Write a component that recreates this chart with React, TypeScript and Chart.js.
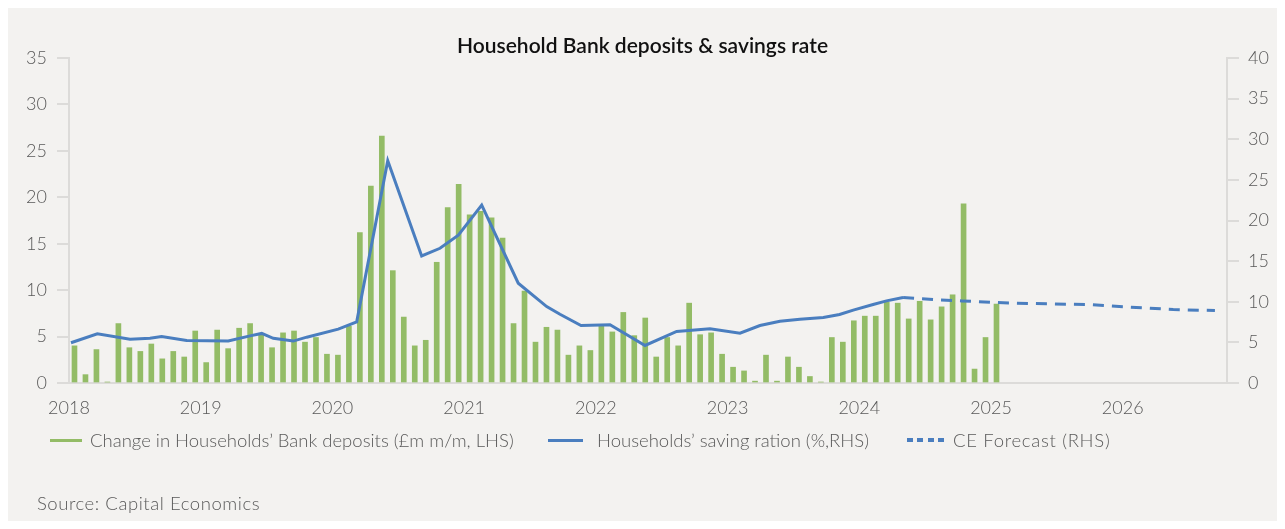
import React, { useEffect, useRef } from "react";
import { Chart, registerables } from "chart.js";

Chart.register(...registerables);

// Monthly bars, Jan 2018 (index 0) .. Jan 2025 (index 84), LHS
const barValues: number[] = [
  4.0, 0.9, 3.6, 0.1, 6.4, 3.8, 3.4, 4.2, 2.6, 3.4, 2.8, 5.6,
  2.2, 5.7, 3.7, 5.9, 6.4, 5.3, 3.8, 5.4, 5.6, 4.4, 4.9, 3.1,
  3.0, 6.1, 16.2, 21.2, 26.6, 12.1, 7.1, 4.0, 4.6, 13.0, 18.9, 21.4,
  18.1, 18.5, 17.8, 15.6, 6.4, 9.9, 4.4, 6.0, 5.7, 3.0, 4.0, 3.5,
  6.3, 5.5, 7.6, 5.1, 7.0, 2.8, 4.9, 4.0, 8.6, 5.2, 5.4, 3.1,
  1.7, 1.3, 0.2, 3.0, 0.2, 2.8, 1.7, 0.7, 0.1, 4.9, 4.4, 6.7,
  7.2, 7.2, 8.7, 8.6, 6.9, 8.8, 6.8, 8.2, 9.5, 19.3, 1.5, 4.9,
  8.5,
];

// Saving ratio (RHS): position in months from Jan 2018, value in %
const savingX: number[] = [
  -0.32, 2.08, 5.06, 6.88, 7.94, 10.22, 14.01, 15.99, 17.06, 18.11, 19.93, 21.16,
  24.03, 25.71, 28.54, 31.63, 33.3, 34.97, 37.1, 40.43, 43.02, 44.23, 46.15, 48.79,
  51.98, 54.86, 57.9, 60.63, 62.45, 64.27, 66.09, 68.22, 69.7, 70.95, 72.76, 73.98,
  75.49,
];
const savingY: number[] = [
  4.95, 6.05, 5.4, 5.5, 5.73, 5.24, 5.16, 5.8, 6.1, 5.5, 5.16, 5.64,
  6.63, 7.53, 27.35, 15.64, 16.58, 18.2, 21.9, 12.28, 9.41, 8.46, 7.08, 7.16,
  4.62, 6.34, 6.67, 6.14, 7.08, 7.6, 7.85, 8.06, 8.43, 8.97, 9.66, 10.11,
  10.52,
];

// CE forecast (RHS)
const forecastX: number[] = [75.49, 78.83, 80.83, 84.6, 88.58, 92.37, 96.17, 100.1, 103.9];
const forecastY: number[] = [10.52, 10.23, 10.1, 9.87, 9.74, 9.66, 9.34, 9.04, 8.92];

const yearLabels: string[] = ["2018", "2019", "2020", "2021", "2022", "2023", "2024", "2025", "2026"];

const legendLabels: string[] = [
  "Change in Households\u2019 Bank deposits (\u00a3m m/m, LHS)",
  "Households\u2019 saving ration (%,RHS)",
  "CE Forecast (RHS)",
];

const GREEN = "#93bc66";
const BLUE = "#4a7ebf";
const AXIS = "#dcdbd9";
const TEXT = "#595959";
const FONT = "Lato, 'Open Sans', sans-serif";

const W = 1269;
const H = 513;

export default function App() {
  const ref = useRef<HTMLCanvasElement | null>(null);

  useEffect(() => {
    if (!ref.current) return;
    const tickFont = { family: FONT, size: 18, weight: 300 as any };
    const chart = new Chart(ref.current, {
      type: "bar",
      data: {
        datasets: [
          {
            type: "line",
            label: legendLabels[1],
            data: savingX.map((x, i) => ({ x, y: savingY[i] })),
            yAxisID: "y1",
            borderColor: BLUE,
            borderWidth: 3,
            pointRadius: 0,
            tension: 0,
            order: 0,
          } as any,
          {
            type: "line",
            label: legendLabels[2],
            data: forecastX.map((x, i) => ({ x, y: forecastY[i] })),
            yAxisID: "y1",
            borderColor: BLUE,
            borderWidth: 3,
            borderDash: [11, 8],
            pointRadius: 0,
            tension: 0,
            order: 0,
          } as any,
          {
            type: "bar",
            label: legendLabels[0],
            data: barValues.map((v, i) => ({ x: i, y: v })),
            yAxisID: "y",
            backgroundColor: GREEN,
            barThickness: 5,
            order: 1,
          } as any,
        ],
      },
      options: {
        responsive: false,
        maintainAspectRatio: false,
        animation: false,
        layout: { padding: { top: 50, left: 0, right: 0, bottom: 0 } },
        plugins: {
          legend: { display: false },
          title: { display: false },
          tooltip: { enabled: false },
        },
        scales: {
          x: {
            type: "linear",
            min: -0.5,
            max: 105,
            offset: false,
            grid: { display: false, drawTicks: false },
            border: { display: true, color: AXIS, width: 2 },
            ticks: {
              color: TEXT,
              font: tickFont,
              padding: 14,
              maxRotation: 0,
              autoSkip: false,
              callback: (v: any) => {
                const k = Math.round((Number(v) + 0.5) / 12);
                return yearLabels[k] ?? "";
              },
            },
            afterBuildTicks: (scale: any) => {
              scale.ticks = yearLabels.map((_, k) => ({ value: 12 * k - 0.5 }));
            },
            afterFit: (scale: any) => {
              scale.height = H - 375;
            },
          },
          y: {
            position: "left",
            min: 0,
            max: 35,
            ticks: { stepSize: 5, color: TEXT, font: tickFont, padding: 10 },
            grid: { drawOnChartArea: false, drawTicks: true, tickLength: 12, color: AXIS, lineWidth: 2 },
            border: { display: true, color: AXIS, width: 2 },
            afterFit: (scale: any) => {
              scale.width = 61;
            },
          },
          y1: {
            position: "right",
            min: 0,
            max: 40,
            ticks: { stepSize: 5, color: TEXT, font: tickFont, padding: 9 },
            grid: { drawOnChartArea: false, drawTicks: true, tickLength: 12, color: AXIS, lineWidth: 2 },
            border: { display: true, color: AXIS, width: 2 },
            afterFit: (scale: any) => {
              scale.width = W - 1219;
            },
          },
        },
      } as any,
    });
    return () => chart.destroy();
  }, []);

  const textStyle: React.CSSProperties = {
    position: "absolute",
    fontFamily: FONT,
    fontSize: 18.5,
    fontWeight: 300,
    color: TEXT,
    lineHeight: "22px",
    whiteSpace: "nowrap",
  };

  return (
    <div style={{ position: "relative", width: W, height: H, background: "#f3f2f0", overflow: "hidden" }}>
      <canvas ref={ref} width={W} height={H} style={{ position: "absolute", left: 0, top: 0, width: W, height: H }} />
      <div
        style={{
          position: "absolute",
          left: 0,
          width: W,
          top: 24,
          textAlign: "center",
          fontFamily: FONT,
          fontSize: 21,
          fontWeight: 600,
          color: "#111",
          lineHeight: "26px",
        }}
      >
        Household Bank deposits &amp; savings rate
      </div>
      <div style={{ position: "absolute", left: 42, top: 431, width: 32, height: 3, background: GREEN }} />
      <div style={{ ...textStyle, left: 82, top: 421 }}>{legendLabels[0]}</div>
      <div style={{ position: "absolute", left: 540, top: 431, width: 35, height: 3, background: BLUE }} />
      <div style={{ ...textStyle, left: 589, top: 421 }}>{legendLabels[1]}</div>
      <div
        style={{
          position: "absolute",
          left: 899,
          top: 430,
          width: 38,
          height: 4,
          background: `repeating-linear-gradient(90deg, ${BLUE} 0px, ${BLUE} 6px, transparent 6px, transparent 10.5px)`,
        }}
      />
      <div style={{ ...textStyle, left: 945, top: 421, letterSpacing: 0.7 }}>{legendLabels[2]}</div>
      <div style={{ ...textStyle, left: 29, top: 484, letterSpacing: 0.55 }}>Source: Capital Economics</div>
    </div>
  );
}
